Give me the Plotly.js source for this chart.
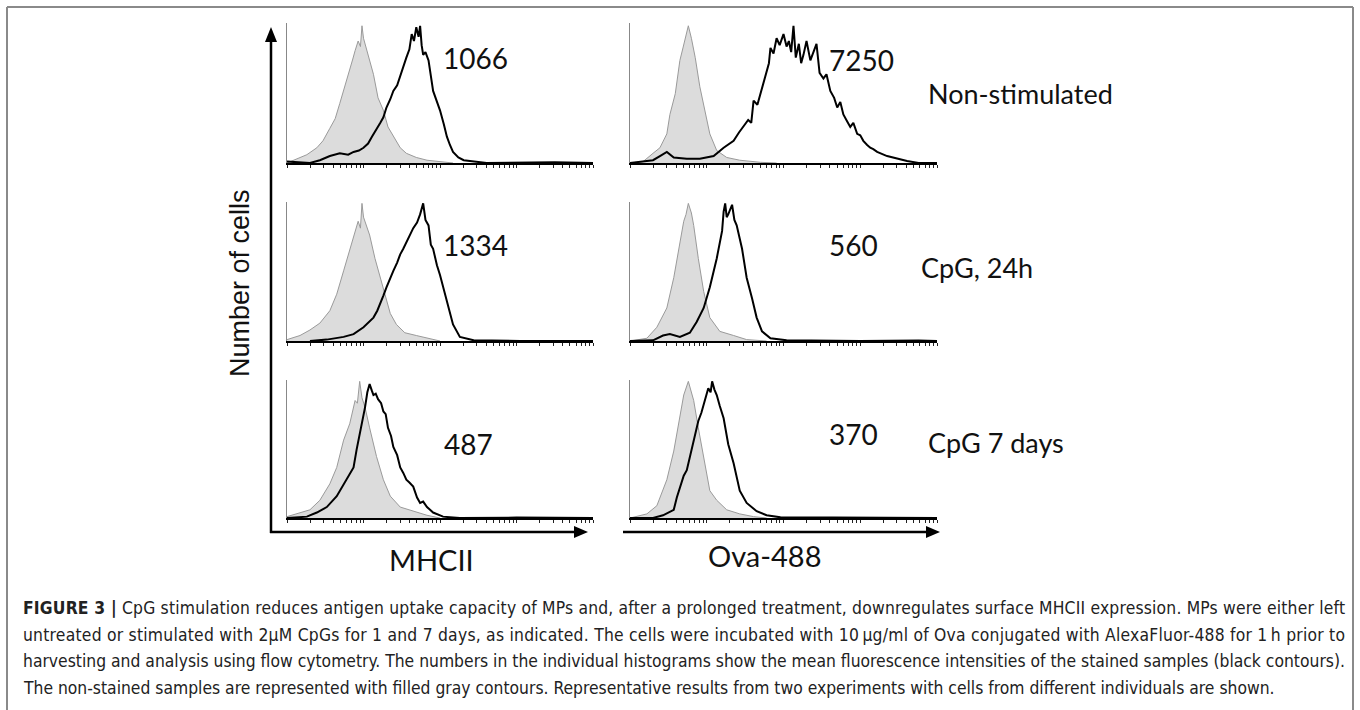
<!DOCTYPE html>
<html><head><meta charset="utf-8">
<script src="https://cdn.plot.ly/plotly-3.0.1.min.js"></script>
<style>html,body{margin:0;padding:0;background:#fff}#chart{width:1360px;height:710px}</style>
</head><body><div id="chart"></div>
<script>
// ---- data (x: log10 fluorescence, decades; y: % of modal count) ----
const panelNames = ["MHCII Non-stimulated","Ova-488 Non-stimulated","MHCII CpG 24h","Ova-488 CpG 24h","MHCII CpG 7 days","Ova-488 CpG 7 days"];
const mfiLabels = ["1066","7250","1334","560","487","370"];
const rowLabels = ["Non-stimulated","CpG, 24h","CpG 7 days"];
const xLabels = ["MHCII","Ova-488"];
const yLabel = "Number of cells";

const grayA_x = [0,0.13,0.26,0.39,0.47,0.56,0.63,0.69,0.76,0.82,0.86,0.89,0.93,0.96,0.98,1.0,1.02,1.06,1.09,1.13,1.19,1.26,1.32,1.39,1.48,1.56,1.69,1.83,2.0,2.17];
const grayA_y = [0,3,6,11,16,25,32,43,57,69,75,81,88,84,99,90,86,78,72,64,47,38,26,19,11,7,4,2,1,0];
const blackA_x = [0,0.3,0.43,0.56,0.69,0.8,0.87,0.94,1.0,1.06,1.11,1.17,1.22,1.26,1.30,1.35,1.39,1.44,1.48,1.52,1.56,1.60,1.63,1.66,1.69,1.72,1.74,1.76,1.78,1.81,1.85,1.91,1.96,2.0,2.05,2.09,2.13,2.17,2.24,2.31,2.61,3.05,3.5,4.0];
const blackA_y = [1,0,2,5,7,6,8,9,11,14,19,24,29,33,40,46,52,56,63,70,76,82,93,88,98,91,99,85,78,80,74,52,45,38,28,19,13,8,4,2,0,0.5,0.5,0];

const grayB_x = [0,0.17,0.30,0.39,0.48,0.52,0.59,0.62,0.65,0.69,0.72,0.76,0.80,0.85,0.91,0.98,1.04,1.13,1.26,1.43,1.70,1.91];
const grayB_y = [0,1,7,11,21,35,50,62,74,83,90,99,90,76,55,38,21,9,4,2,0.5,0];
const blackB_x = [0,0.30,0.39,0.48,0.57,0.74,0.91,1.09,1.22,1.30,1.35,1.42,1.46,1.54,1.58,1.61,1.66,1.70,1.74,1.78,1.81,1.83,1.87,1.91,1.95,2.0,2.04,2.07,2.10,2.13,2.16,2.20,2.23,2.26,2.30,2.35,2.39,2.43,2.47,2.52,2.56,2.61,2.66,2.70,2.74,2.78,2.83,2.87,2.91,2.96,3.0,3.04,3.09,3.13,3.17,3.22,3.35,3.48,3.61,3.76,4.0];
const blackB_y = [0,2,5,8,4,3,3,5,11,14,16,22,25,31,29,45,42,50,60,66,72,83,79,90,85,93,84,88,80,99,76,86,72,78,88,74,80,86,65,61,64,52,47,40,44,35,30,26,29,21,20,16,13,11,10,8,5,3,1.5,0,0];

const grayC_x = [0,0.17,0.30,0.43,0.56,0.65,0.74,0.80,0.87,0.93,0.96,0.98,1.0,1.02,1.08,1.15,1.22,1.28,1.35,1.43,1.54,1.69,1.83,2.0];
const grayC_y = [1,4,8,13,22,34,51,63,76,87,82,100,90,87,77,60,46,32,20,12,6,4,2,0];
const blackC_x = [0.3,0.52,0.74,0.87,1.0,1.13,1.18,1.22,1.26,1.30,1.35,1.39,1.44,1.48,1.52,1.56,1.60,1.65,1.70,1.74,1.78,1.81,1.85,1.88,1.91,1.96,2.0,2.05,2.09,2.13,2.17,2.26,2.44,3.05,4.0];
const blackC_y = [0,1,3,5,10,17,22,27,33,39,46,51,57,63,67,72,77,82,86,92,100,88,84,70,67,55,48,38,29,20,12,3,0.5,0,0];

const grayD_x = [0,0.22,0.35,0.48,0.57,0.63,0.70,0.73,0.76,0.80,0.83,0.89,0.96,1.04,1.17,1.35,1.52,1.78];
const grayD_y = [0,2,10,24,46,65,87,92,100,93,84,60,36,17,7,4,1,0];
const blackD_x = [0,0.3,0.43,0.52,0.65,0.78,0.87,0.96,1.04,1.13,1.20,1.22,1.24,1.26,1.28,1.31,1.33,1.36,1.39,1.46,1.52,1.59,1.65,1.72,1.83,2.04,3.0,3.76,4.0];
const blackD_y = [0,0.5,4,5,3,6,14,24,39,60,80,94,100,90,92,97,99,88,84,67,46,31,17,7,2,0.5,0,0.3,0];

const grayE_x = [0,0.17,0.30,0.43,0.56,0.65,0.74,0.82,0.86,0.89,0.92,0.95,0.98,1.02,1.08,1.17,1.26,1.35,1.48,1.65,1.83,2.0];
const grayE_y = [1,4,6,13,25,37,57,69,78,86,84,100,88,81,66,45,28,16,8,5,2,0];
const blackE_x = [0,0.26,0.39,0.52,0.65,0.78,0.87,0.91,0.95,1.0,1.02,1.05,1.08,1.11,1.13,1.16,1.19,1.23,1.26,1.29,1.32,1.36,1.39,1.44,1.48,1.52,1.56,1.60,1.65,1.70,1.74,1.78,1.83,1.87,1.91,2.04,2.26,3.0,4.0];
const blackE_y = [0,1,4,8,16,28,37,50,61,75,81,92,98,93,90,91,87,84,78,76,66,60,52,46,37,33,28,26,23,15,11,12,8,6,4,1,0,0.3,0];

const grayF_x = [0,0.22,0.35,0.48,0.57,0.63,0.70,0.76,0.80,0.83,0.89,0.96,1.04,1.13,1.26,1.43,1.61,1.78];
const grayF_y = [0,3,9,28,49,69,90,100,92,86,66,45,20,13,6,3,1,0];
const blackF_x = [0,0.3,0.43,0.57,0.61,0.65,0.70,0.74,0.78,0.83,0.86,0.89,0.93,0.96,0.99,1.02,1.05,1.07,1.10,1.13,1.17,1.22,1.28,1.35,1.43,1.52,1.65,1.78,1.96,3.0,4.0];
const blackF_y = [0,0,2,6,15,23,31,35,45,57,64,71,77,83,89,95,92,100,94,90,82,73,54,40,20,11,5,2,0.5,0,0];

const grayX = [grayA_x,grayB_x,grayC_x,grayD_x,grayE_x,grayF_x];
const grayY = [grayA_y,grayB_y,grayC_y,grayD_y,grayE_y,grayF_y];
const blackX = [blackA_x,blackB_x,blackC_x,blackD_x,blackE_x,blackF_x];
const blackY = [blackA_y,blackB_y,blackC_y,blackD_y,blackE_y,blackF_y];

const captionLines = [
 "<b>FIGURE 3 |</b> CpG stimulation reduces antigen uptake capacity of MPs and, after a prolonged treatment, downregulates surface MHCII expression. MPs were either left",
 "untreated or stimulated with 2\u03bcM CpGs for 1 and 7 days, as indicated. The cells were incubated with 10\u2009\u03bcg/ml of Ova conjugated with AlexaFluor-488 for 1\u2009h prior to",
 "harvesting and analysis using flow cytometry. The numbers in the individual histograms show the mean fluorescence intensities of the stained samples (black contours).",
 "The non-stained samples are represented with filled gray contours. Representative results from two experiments with cells from different individuals are shown."
];

// ---- layout helpers (pixel -> paper) ----
const W = 1360, H = 710;
const px = x => x / W, py = y => 1 - y / H;
const colX = [[287, 593], [630, 937]];
const rowY = [[23, 163], [202, 341], [380, 518]];

const tickv = [];
for (let d = 0; d < 4; d++) for (let k = 1; k < 10; k++) tickv.push(d + Math.log10(k));
tickv.push(4);

const traces = [];
const layout = {
  width: W, height: H, margin: {l: 0, r: 0, t: 0, b: 0},
  paper_bgcolor: "#fff", plot_bgcolor: "rgba(0,0,0,0)", showlegend: false,
  shapes: [], annotations: []
};

for (let i = 0; i < 6; i++) {
  const r = Math.floor(i / 2), c = i % 2, n = i + 1;
  const xa = "x" + (n === 1 ? "" : n), ya = "y" + (n === 1 ? "" : n);
  traces.push({x: grayX[i], y: grayY[i], xaxis: xa, yaxis: ya, type: "scatter", mode: "lines",
    fill: "tozeroy", fillcolor: "#dcdcdc", line: {color: "#9a9a9a", width: 1}, hoverinfo: "skip", name: panelNames[i] + " unstained"});
  traces.push({x: blackX[i], y: blackY[i], xaxis: xa, yaxis: ya, type: "scatter", mode: "lines",
    line: {color: "#000", width: 2}, hoverinfo: "skip", name: panelNames[i] + " stained"});
  layout["xaxis" + (n === 1 ? "" : n)] = {domain: [px(colX[c][0]), px(colX[c][1])], range: [0, 4],
    anchor: ya, showgrid: false, zeroline: false, showline: true, linecolor: "#000", linewidth: 1.5,
    ticks: "outside", ticklen: 3, tickwidth: 1, tickcolor: "#222", tickvals: tickv, showticklabels: false, fixedrange: true};
  layout["yaxis" + (n === 1 ? "" : n)] = {domain: [py(rowY[r][1]), py(rowY[r][0])], range: [0, 101],
    anchor: xa, showgrid: false, zeroline: false, showline: true, linecolor: "#888", linewidth: 1,
    ticks: "", showticklabels: false, fixedrange: true};
}

// outer frame
const frame = {color: "#8a8a8a", width: 2};
layout.shapes.push({type: "line", xref: "paper", yref: "paper", x0: px(7), x1: px(1353), y0: py(7), y1: py(7), line: frame});
layout.shapes.push({type: "line", xref: "paper", yref: "paper", x0: px(7), x1: px(7), y0: py(7), y1: py(712), line: frame});
layout.shapes.push({type: "line", xref: "paper", yref: "paper", x0: px(1353), x1: px(1353), y0: py(7), y1: py(712), line: frame});

// arrows
const arrowLine = {color: "#000", width: 2.5};
layout.shapes.push({type: "line", xref: "paper", yref: "paper", x0: px(271), x1: px(271), y0: py(533), y1: py(40), line: arrowLine});
layout.shapes.push({type: "path", xref: "paper", yref: "paper", fillcolor: "#000", line: {width: 0},
  path: `M${px(265)},${py(42)} L${px(271)},${py(27)} L${px(277)},${py(42)} Z`});
layout.shapes.push({type: "line", xref: "paper", yref: "paper", x0: px(270), x1: px(576), y0: py(532), y1: py(532), line: arrowLine});
layout.shapes.push({type: "path", xref: "paper", yref: "paper", fillcolor: "#000", line: {width: 0},
  path: `M${px(574)},${py(526)} L${px(588)},${py(532)} L${px(574)},${py(538)} Z`});
layout.shapes.push({type: "line", xref: "paper", yref: "paper", x0: px(623), x1: px(928), y0: py(532), y1: py(532), line: arrowLine});
layout.shapes.push({type: "path", xref: "paper", yref: "paper", fillcolor: "#000", line: {width: 0},
  path: `M${px(926)},${py(526)} L${px(940)},${py(532)} L${px(926)},${py(538)} Z`});

const calib = "Lato, Carlito, 'Open Sans', sans-serif";
function txt(text, x, y, size, opts) {
  layout.annotations.push(Object.assign({text: text, xref: "paper", yref: "paper", x: px(x), y: py(y),
    xanchor: "left", yanchor: "middle", showarrow: false, font: {family: calib, size: size, color: "#111"}}, opts || {}));
}
// MFI numbers
const mfiPos = [[441, 58], [827, 60], [441, 245], [827, 245], [442, 444], [827, 434]];
mfiPos.forEach((p, i) => txt(mfiLabels[i], p[0], p[1], 28));
// row labels
const rowPos = [[926, 93], [919, 268], [926, 443]];
rowPos.forEach((p, i) => txt(rowLabels[i], p[0], p[1], 27));
// axis names
txt(xLabels[0], 431, 559, 29, {xanchor: "center"});
txt(xLabels[1], 764, 555, 29, {xanchor: "center"});
txt(yLabel, 240, 283, 27, {xanchor: "center", textangle: -90, font: {family: "'Liberation Sans', Arial, sans-serif", size: 27, color: "#111"}});

// caption: condensed font sized so the widest justified line fits
const capFont = "'Liberation Sans Narrow', 'DejaVu Sans Condensed', 'Liberation Sans', sans-serif";
const capWidth = 1322;
let capSize = 15;
try {
  const cv = document.createElement("canvas").getContext("2d");
  const fam = "'Liberation Sans Narrow', 'DejaVu Sans Condensed', 'Liberation Sans'";
  let best = 100;
  captionLines.slice(0, 3).forEach(t => {
    let w = 0;
    const m = t.match(/^<b>(.*?)<\/b>(.*)$/);
    if (m) { cv.font = "bold 20px " + fam; w += cv.measureText(m[1]).width; t = m[2]; }
    cv.font = "20px " + fam; w += cv.measureText(t).width;
    best = Math.min(best, 20 * capWidth / w);
  });
  capSize = best;
} catch (e) {}
const capY = [608, 635, 661, 688];
const capStart = layout.annotations.length;
captionLines.forEach((t, i) => txt(t, 21, capY[i], capSize, {align: "left", font: {family: capFont, size: capSize, color: "#222"}}));

Plotly.newPlot("chart", traces, layout, {staticPlot: true, displayModeBar: false}).then(gd => {
  // justify the first three caption lines to the full text width
  const texts = gd.querySelectorAll("g.annotation text.annotation-text");
  for (let i = 0; i < 3; i++) {
    const el = texts[capStart + i];
    if (el) { el.setAttribute("textLength", capWidth); el.setAttribute("lengthAdjust", "spacing"); }
  }
});
</script></body></html>
